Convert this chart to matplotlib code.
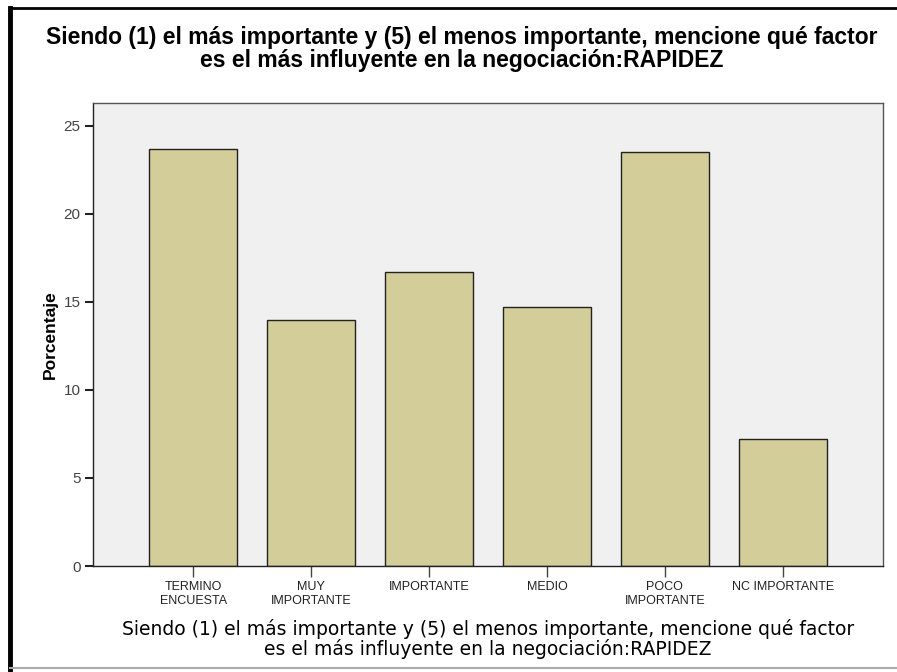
import matplotlib.pyplot as plt
from matplotlib.lines import Line2D

# --- Dados ---
categorias = ['TERMINO\nENCUESTA', 'MUY\nIMPORTANTE', 'IMPORTANTE', 'MEDIO',
              'POCO\nIMPORTANTE', 'NC IMPORTANTE']
porcentajes = [23.7, 14.0, 16.7, 14.7, 23.5, 7.2]
yticks = [0, 5, 10, 15, 20, 25]

titulo = ('Siendo (1) el más importante y (5) el menos importante, mencione qué factor\n'
          'es el más influyente en la negociación:RAPIDEZ')

plt.rcParams['font.family'] = ['Liberation Sans', 'DejaVu Sans']

fig = plt.figure(figsize=(8.97, 6.72), dpi=100)
ax = fig.add_axes([93 / 897, 1 - 566 / 672, 790 / 897, 463 / 672])

x = range(len(categorias))
ax.bar(x, porcentajes, width=0.745, color='#D3CD99', edgecolor='#222222', linewidth=1.0, zorder=2)

ax.set_facecolor('#F0F0F0')
ax.set_xlim(-0.85, 5.85)
ax.set_ylim(0, 26.3)
ax.set_yticks(yticks)
ax.set_yticklabels([str(v) for v in yticks], fontsize=11, color='#444444')
ax.set_xticks(list(x))
ax.set_xticklabels(categorias, fontsize=9, color='#222222', linespacing=1.15)
ax.tick_params(axis='y', length=6, width=1.5, color='#222222', pad=3)
ax.tick_params(axis='x', length=8, width=1, color='#444444', pad=3)
for s in ax.spines.values():
    s.set_color('#555555')
    s.set_linewidth(1)
ax.spines['bottom'].set_color('#222222')
ax.spines['left'].set_color('#222222')

ax.set_ylabel('Porcentaje', fontsize=12.5, fontweight='bold', labelpad=4)
ax.set_xlabel(titulo, fontsize=13.5, labelpad=9, linespacing=1.0,
              family=['DejaVu Sans'])

fig.text(0.515, 1 - 49 / 672, titulo, ha='center', va='center', fontsize=16.5,
         fontweight='bold', linespacing=0.95)

# marco exterior
fig.add_artist(Line2D([10 / 897, 10 / 897], [0, 1 - 8 / 672], color='black', lw=3.5))
fig.add_artist(Line2D([10 / 897, 1], [1 - 8 / 672, 1 - 8 / 672], color='black', lw=2))
fig.add_artist(Line2D([10 / 897, 1], [4 / 672, 4 / 672], color='#AAAAAA', lw=1.5))

fig.savefig('out.png', dpi=100)
